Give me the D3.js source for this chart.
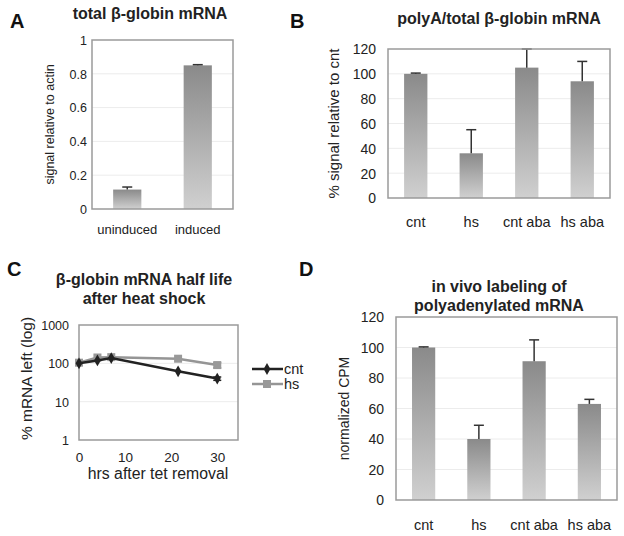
<!DOCTYPE html>
<html>
<head>
<meta charset="utf-8">
<script src="https://cdn.jsdelivr.net/npm/d3@7"></script>
<style>
  body { margin: 0; background: #fff; }
  svg { font-family: "Liberation Sans", Arial, sans-serif; }
</style>
</head>
<body>
<svg id="fig" width="624" height="536"></svg>
<script>
// panel A
const aCats = ["uninduced", "induced"];
const aVals = [0.115, 0.85];
const aErr = [0.015, 0.004];
const aTicks = [0, 0.2, 0.4, 0.6, 0.8, 1];

// panel B
const bCats = ["cnt", "hs", "cnt aba", "hs aba"];
const bVals = [100, 36, 105, 94];
const bErr = [0.6, 19, 15, 16];
const bTicks = [0, 20, 40, 60, 80, 100, 120];

// panel C
const cHours = [0, 4, 7, 21.5, 30];
const cCnt = [100, 119, 137, 62, 40];
const cHs = [104, 142, 145, 132, 90];
const cHsErr = [0, 0, 0, 0, 14];
const cCntErr = [0, 0, 0, 0, 4];
const cYTicks = [1, 10, 100, 1000];
const cXTicks = [0, 10, 20, 30];

// panel D
const dCats = ["cnt", "hs", "cnt aba", "hs aba"];
const dVals = [100, 40, 91, 63];
const dErr = [0.4, 9, 14, 3];
const dTicks = [0, 20, 40, 60, 80, 100, 120];

const svg = d3.select("#fig");

const defs = svg.append("defs");
const grad = defs.append("linearGradient").attr("id", "barGrad")
  .attr("x1", 0).attr("y1", 0).attr("x2", 0).attr("y2", 1);
grad.append("stop").attr("offset", "0%").attr("stop-color", "#8a8a8a");
grad.append("stop").attr("offset", "100%").attr("stop-color", "#d0d0d0");

function frame(g, x0, x1, y0, y1) {
  g.append("rect")
    .attr("x", x0).attr("y", y0)
    .attr("width", x1 - x0).attr("height", y1 - y0)
    .attr("fill", "none").attr("stroke", "#9a9a9a").attr("stroke-width", 1.5);
}

function barPanel(o) {
  const g = svg.append("g");
  const x = d3.scaleBand().domain(o.cats).range([o.x0, o.x1]).paddingInner(o.pad).paddingOuter(o.pad / 2);
  const y = d3.scaleLinear().domain([0, o.ticks[o.ticks.length - 1]]).range([o.y1, o.y0]);

  // grid
  g.selectAll(".grid").data(o.ticks.slice(1, -1)).enter().append("line")
    .attr("x1", o.x0).attr("x2", o.x1)
    .attr("y1", d => y(d)).attr("y2", d => y(d))
    .attr("stroke", "#ececec").attr("stroke-width", 1);

  g.selectAll(".bar").data(o.vals).enter().append("rect")
    .attr("x", (d, i) => x(o.cats[i]))
    .attr("y", d => y(d))
    .attr("width", x.bandwidth())
    .attr("height", d => o.y1 - y(d))
    .attr("fill", "url(#barGrad)");

  // error bars, upward only
  o.vals.forEach((v, i) => {
    const cx = x(o.cats[i]) + x.bandwidth() / 2;
    const top = y(v + o.err[i]);
    g.append("line").attr("x1", cx).attr("x2", cx).attr("y1", y(v)).attr("y2", top)
      .attr("stroke", "#333").attr("stroke-width", 1.5);
    g.append("line").attr("x1", cx - 5).attr("x2", cx + 5).attr("y1", top).attr("y2", top)
      .attr("stroke", "#333").attr("stroke-width", 1.5);
  });

  frame(g, o.x0, o.x1, o.y0, o.y1);

  const ax = d3.axisLeft(y).tickValues(o.ticks).tickSize(0).tickPadding(0).tickFormat(d3.format("~g"));
  const axg = g.append("g").attr("transform", `translate(${o.tickX},0)`).call(ax);
  axg.select(".domain").remove();
  axg.selectAll("text").attr("font-size", o.tickSize).attr("fill", "#222").attr("dy", "0.35em");

  g.selectAll(".cat").data(o.cats).enter().append("text")
    .attr("x", d => x(d) + x.bandwidth() / 2)
    .attr("y", o.catY)
    .attr("text-anchor", "middle")
    .attr("font-size", o.catSize).attr("fill", "#222")
    .text(d => d);

  g.append("text")
    .attr("transform", `translate(${o.labX},${(o.y0 + o.y1) / 2}) rotate(-90)`)
    .attr("text-anchor", "middle").attr("dy", "0.35em")
    .attr("font-size", o.labSize).attr("fill", "#222")
    .text(o.label);

  o.title.forEach((t, i) => {
    g.append("text")
      .attr("x", o.titleX).attr("y", o.titleY + i * 19)
      .attr("text-anchor", "middle")
      .attr("font-size", 16).attr("font-weight", "bold").attr("fill", "#222")
      .text(t);
  });
}

barPanel({
  cats: aCats, vals: aVals, err: aErr, ticks: aTicks,
  x0: 92, x1: 233, y0: 40, y1: 209, pad: 0.6,
  tickX: 87, tickSize: 12.5, catY: 234, catSize: 13,
  labX: 50, labSize: 12.5, label: "signal relative to actin",
  title: ["total β-globin mRNA"], titleX: 150, titleY: 19
});

barPanel({
  cats: bCats, vals: bVals, err: bErr, ticks: bTicks,
  x0: 388, x1: 610, y0: 49, y1: 198, pad: 0.58,
  tickX: 376, tickSize: 14, catY: 227, catSize: 14.5,
  labX: 334, labSize: 15, label: "% signal relative to cnt",
  title: ["polyA/total β-globin mRNA"], titleX: 499, titleY: 24
});

barPanel({
  cats: dCats, vals: dVals, err: dErr, ticks: dTicks,
  x0: 396, x1: 617, y0: 317, y1: 500, pad: 0.58,
  tickX: 384, tickSize: 14, catY: 530, catSize: 14.5,
  labX: 344, labSize: 14, label: "normalized CPM",
  title: ["in vivo labeling of", "polyadenylated mRNA"], titleX: 499, titleY: 292
});

// panel C: log line chart
(function () {
  const g = svg.append("g");
  const x0 = 79, x1 = 238, y0 = 325, y1 = 440;
  const x = d3.scaleLinear().domain([0, 34.5]).range([x0, x1]);
  const y = d3.scaleLog().domain([1, 1000]).range([y1, y0]);

  g.selectAll(".grid").data([10, 100]).enter().append("line")
    .attr("x1", x0).attr("x2", x1)
    .attr("y1", d => y(d)).attr("y2", d => y(d))
    .attr("stroke", "#ececec");

  frame(g, x0, x1, y0, y1);

  const yax = d3.axisLeft(y).tickValues(cYTicks).tickSize(0).tickPadding(0).tickFormat(d3.format("d"));
  const yg = g.append("g").attr("transform", `translate(69,0)`).call(yax);
  yg.select(".domain").remove();
  yg.selectAll("text").attr("font-size", 12.5).attr("fill", "#222").attr("dy", "0.35em");

  const xax = d3.axisBottom(x).tickValues(cXTicks).tickSize(0).tickPadding(0);
  const xg = g.append("g").attr("transform", `translate(0,452)`).call(xax);
  xg.select(".domain").remove();
  xg.selectAll("text").attr("font-size", 13.5).attr("fill", "#222");

  const line = d3.line().x((d, i) => x(cHours[i])).y(d => y(d));

  // hs series
  cHs.forEach((v, i) => {
    if (!cHsErr[i]) return;
    const cx = x(cHours[i]);
    [v - cHsErr[i], v + cHsErr[i]].forEach(e => {
      g.append("line").attr("x1", cx).attr("x2", cx).attr("y1", y(v)).attr("y2", y(e)).attr("stroke", "#8c8c8c").attr("stroke-width", 1.5);
      g.append("line").attr("x1", cx - 4).attr("x2", cx + 4).attr("y1", y(e)).attr("y2", y(e)).attr("stroke", "#8c8c8c").attr("stroke-width", 1.5);
    });
  });
  g.append("path").datum(cHs).attr("d", line)
    .attr("fill", "none").attr("stroke", "#959595").attr("stroke-width", 2.5);
  g.selectAll(".hsPt").data(cHs).enter().append("rect")
    .attr("x", (d, i) => x(cHours[i]) - 4).attr("y", d => y(d) - 4)
    .attr("width", 8).attr("height", 8).attr("fill", "#999");

  // cnt series
  cCnt.forEach((v, i) => {
    if (!cCntErr[i]) return;
    const cx = x(cHours[i]);
    [v - cCntErr[i], v + cCntErr[i]].forEach(e => {
      g.append("line").attr("x1", cx - 4).attr("x2", cx + 4).attr("y1", y(e)).attr("y2", y(e)).attr("stroke", "#222").attr("stroke-width", 1.5);
    });
  });
  g.append("path").datum(cCnt).attr("d", line)
    .attr("fill", "none").attr("stroke", "#222").attr("stroke-width", 2.5);
  const diamond = d3.symbol().type(d3.symbolDiamond).size(40);
  g.selectAll(".cntPt").data(cCnt).enter().append("path")
    .attr("d", diamond)
    .attr("transform", (d, i) => `translate(${x(cHours[i])},${y(d)})`)
    .attr("fill", "#222");

  // legend
  const leg = [["cnt", "#222", "d"], ["hs", "#959595", "s"]];
  leg.forEach((l, i) => {
    const ly = 369 + i * 15;
    g.append("line").attr("x1", 252).attr("x2", 283).attr("y1", ly).attr("y2", ly)
      .attr("stroke", l[1]).attr("stroke-width", 2.5);
    if (l[2] === "d") {
      g.append("path").attr("d", diamond).attr("transform", `translate(267,${ly})`).attr("fill", l[1]);
    } else {
      g.append("rect").attr("x", 263).attr("y", ly - 4).attr("width", 8).attr("height", 8).attr("fill", "#999");
    }
    g.append("text").attr("x", 284).attr("y", ly).attr("dy", "0.35em")
      .attr("font-size", 14.5).attr("fill", "#222").text(l[0]);
  });

  g.append("text").attr("x", 158).attr("y", 479).attr("text-anchor", "middle")
    .attr("font-size", 15.8).attr("fill", "#222").text("hrs after tet removal");

  g.append("text")
    .attr("transform", `translate(27,${(y0 + y1) / 2 - 4}) rotate(-90)`)
    .attr("text-anchor", "middle").attr("dy", "0.35em")
    .attr("font-size", 15.5).attr("fill", "#222")
    .text("% mRNA left (log)");

  ["β-globin mRNA half life", "after heat shock"].forEach((t, i) => {
    g.append("text").attr("x", 144).attr("y", 285 + i * 19).attr("text-anchor", "middle")
      .attr("font-size", 16).attr("font-weight", "bold").attr("fill", "#222").text(t);
  });
})();

// panel letters
const letters = [["A", 10, 28], ["B", 290, 28], ["C", 7, 276], ["D", 299, 276]];
svg.selectAll(".letter").data(letters).enter().append("text")
  .attr("x", d => d[1]).attr("y", d => d[2])
  .attr("font-size", 20).attr("font-weight", "bold").attr("fill", "#111")
  .text(d => d[0]);
</script>
</body>
</html>
